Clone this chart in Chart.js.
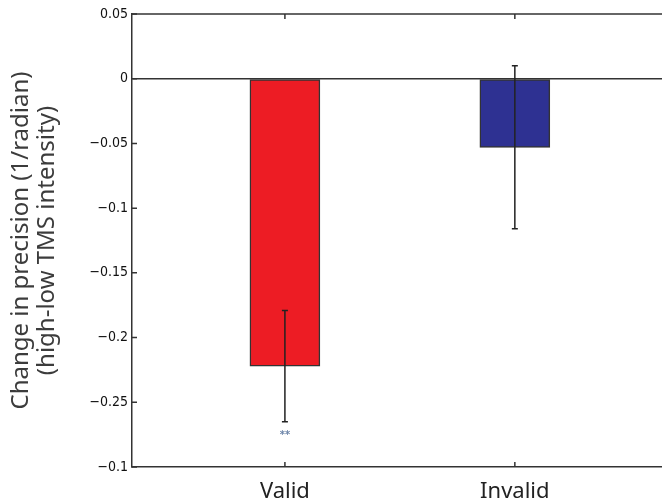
<!DOCTYPE html>
<html>
<head>
<meta charset="utf-8">
<script src="https://cdn.jsdelivr.net/npm/chart.js@4/dist/chart.umd.min.js"></script>
<style>
  html, body { margin: 0; padding: 0; background: #fff; }
  #chart { display: block; }
</style>
</head>
<body>
<canvas id="chart" width="662" height="504"></canvas>
<script>
// data
let categories = ['Valid', 'Invalid'];
let xPositions = [1, 2];
let barValues = [-0.222, -0.053];
let barErrors = [0.043, 0.063];
let barColors = ['#ED1C24', '#2E3192'];
let annotations = ['**', ''];

// y ticks (the bottom label really does say -0.1 in the original)
let yTickValues = [-0.3, -0.25, -0.2, -0.15, -0.1, -0.05, 0, 0.05];
let yTickLabels = ['\u22120.1', '\u22120.25', '\u22120.2', '\u22120.15', '\u22120.1', '\u22120.05', '0', '0.05'];

let axisColor = '#333';
let tickFont = '"Liberation Sans Narrow", "DejaVu Sans Condensed", sans-serif';
let labelFont = '"Noto Sans", "Open Sans", sans-serif';

// matlab style: box on top, ticks pointing inward, error bars, stars
const matlabBits = {
    id: 'matlabBits',
    afterDatasetsDraw(chart) {
        const ctx = chart.ctx;
        const area = chart.chartArea;
        const xs = chart.scales.x;
        const ys = chart.scales.y;
        ctx.save();
        ctx.strokeStyle = axisColor;
        ctx.lineWidth = 1.5;

        // top border
        ctx.beginPath();
        ctx.moveTo(area.left, area.top);
        ctx.lineTo(area.right, area.top);
        ctx.stroke();

        // inward ticks
        ctx.beginPath();
        yTickValues.forEach(v => {
            const y = ys.getPixelForValue(v);
            ctx.moveTo(area.left, y);
            ctx.lineTo(area.left + 5, y);
        });
        xPositions.forEach(v => {
            const x = xs.getPixelForValue(v);
            ctx.moveTo(x, area.bottom);
            ctx.lineTo(x, area.bottom - 5);
            ctx.moveTo(x, area.top);
            ctx.lineTo(x, area.top + 5);
        });
        ctx.stroke();

        // error bars
        const meta = chart.getDatasetMeta(0);
        ctx.strokeStyle = '#222';
        ctx.lineWidth = 1.5;
        meta.data.forEach((bar, i) => {
            const x = bar.x;
            const yHi = ys.getPixelForValue(barValues[i] + barErrors[i]);
            const yLo = ys.getPixelForValue(barValues[i] - barErrors[i]);
            ctx.beginPath();
            ctx.moveTo(x, yHi);
            ctx.lineTo(x, yLo);
            ctx.moveTo(x - 3, yHi);
            ctx.lineTo(x + 3, yHi);
            ctx.moveTo(x - 3, yLo);
            ctx.lineTo(x + 3, yLo);
            ctx.stroke();

            if (annotations[i]) {
                ctx.fillStyle = '#6b84a8';
                ctx.font = 'bold 11px ' + tickFont;
                ctx.textAlign = 'center';
                ctx.textBaseline = 'middle';
                ctx.fillText(annotations[i], x, yLo + 13);
            }
        });
        ctx.restore();
    }
};

new Chart(document.getElementById('chart').getContext('2d'), {
    type: 'bar',
    data: {
        datasets: [{
            data: xPositions.map((x, i) => ({ x: x, y: barValues[i] })),
            backgroundColor: barColors,
            borderColor: axisColor,
            borderWidth: 1.5,
            borderSkipped: false,
            barThickness: 70
        }]
    },
    options: {
        responsive: false,
        animation: false,
        layout: { padding: { top: 14, left: 0, right: 0, bottom: 0 } },
        plugins: {
            legend: { display: false },
            tooltip: { enabled: false }
        },
        scales: {
            x: {
                type: 'linear',
                min: 0.335,
                max: 2.64,
                offset: false,
                afterBuildTicks: (scale) => {
                    scale.ticks = xPositions.map(v => ({ value: v }));
                },
                afterFit: (scale) => { scale.height = 37; },
                ticks: {
                    autoSkip: false,
                    maxRotation: 0,
                    padding: 12,
                    color: '#222',
                    font: { family: labelFont, size: 22 },
                    callback: (v) => categories[xPositions.indexOf(v)]
                },
                grid: { display: false, drawTicks: false, offset: false },
                border: { display: true, color: axisColor, width: 1.5 }
            },
            y: {
                min: -0.3,
                max: 0.05,
                afterBuildTicks: (scale) => {
                    scale.ticks = yTickValues.map(v => ({ value: v }));
                },
                afterFit: (scale) => { scale.width = 132; },
                ticks: {
                    padding: 4,
                    color: '#111',
                    font: { family: tickFont, size: 14 },
                    callback: (v, i) => yTickLabels[i]
                },
                grid: {
                    drawTicks: false,
                    color: (c) => (c.tick && c.tick.value === 0) ? axisColor : 'rgba(0,0,0,0)',
                    lineWidth: 1.5
                },
                border: { display: true, color: axisColor, width: 1.5 },
                title: {
                    display: true,
                    text: ['Change in precision (1/radian)', '(high-low TMS intensity)'],
                    color: '#3c3c3c',
                    font: { family: labelFont, size: 24, lineHeight: 1.05 },
                    padding: { top: 9, bottom: 0 }
                }
            }
        }
    },
    plugins: [matlabBits]
});
</script>
</body>
</html>
